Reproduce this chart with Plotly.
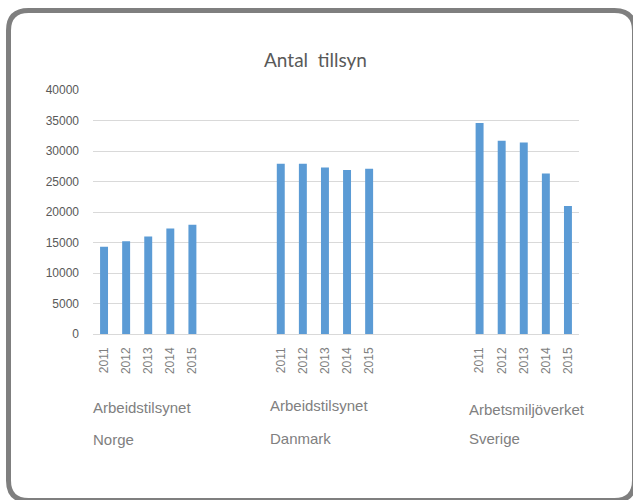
import plotly.graph_objects as go

# ---- data ----
years = ["2011", "2012", "2013", "2014", "2015"]
agencies = ["Arbeidstilsynet", "Arbeidstilsynet", "Arbetsmiljöverket"]
countries = ["Norge", "Danmark", "Sverige"]
norge = [14300, 15200, 16000, 17300, 17900]
danmark = [27900, 27900, 27300, 26900, 27100]
sverige = [34600, 31700, 31400, 26300, 21000]
y_tick_vals = [0, 5000, 10000, 15000, 20000, 25000, 30000, 35000, 40000]
title_text = "Antal  tillsyn"

series = [norge, danmark, sverige]

# ---- layout helpers ----
W, H = 633, 500
L, R, T, B = 93, 54, 90, 166
PW, PH = W - L - R, H - T - B
group_start = [0, 8, 17]  # slot index of the first bar of each group


def px(x):
    return (x - L) / PW


def py(y):
    return (H - B - y) / PH


fig = go.Figure()

xs, ys, tick_vals, tick_text = [], [], [], []
for g, vals in enumerate(series):
    for i, v in enumerate(vals):
        xs.append(group_start[g] + i)
        ys.append(v)
        tick_vals.append(group_start[g] + i)
        tick_text.append(years[i])

fig.add_trace(go.Bar(x=xs, y=ys, width=0.36, marker=dict(color="#5b9bd5", line=dict(width=0)),
                     hoverinfo="y"))

# group labels
line1_y = [407, 405, 409]
line2_y = [439, 438, 438]
for g in range(3):
    fig.add_annotation(x=group_start[g] - 0.5, xref="x", xanchor="left", xshift=-2,
                       y=0, yref="paper", yanchor="middle", yshift=-(line1_y[g] - (H - B)),
                       text=agencies[g], showarrow=False,
                       font=dict(family="Liberation Sans", size=15, color="#808080"))
    fig.add_annotation(x=group_start[g] - 0.5, xref="x", xanchor="left", xshift=-2,
                       y=0, yref="paper", yanchor="middle", yshift=-(line2_y[g] - (H - B)),
                       text=countries[g], showarrow=False,
                       font=dict(family="Liberation Sans", size=15, color="#808080"))

# rounded frame
x0, y0, x1, y1, r = 8.5, 10.5, 634.5, 500.5, 20
path = (f"M {px(x0 + r)},{py(y0)} L {px(x1 - r)},{py(y0)} "
        f"Q {px(x1)},{py(y0)} {px(x1)},{py(y0 + r)} "
        f"L {px(x1)},{py(y1 - r)} Q {px(x1)},{py(y1)} {px(x1 - r)},{py(y1)} "
        f"L {px(x0 + r)},{py(y1)} Q {px(x0)},{py(y1)} {px(x0)},{py(y1 - r)} "
        f"L {px(x0)},{py(y0 + r)} Q {px(x0)},{py(y0)} {px(x0 + r)},{py(y0)} Z")
fig.add_shape(type="path", path=path, xref="paper", yref="paper",
              line=dict(color="#7f7f7f", width=5), fillcolor="rgba(0,0,0,0)", layer="above")

fig.update_layout(
    width=W, height=H,
    margin=dict(l=L, r=R, t=T, b=B, pad=0),
    paper_bgcolor="white", plot_bgcolor="white",
    showlegend=False,
    title=dict(text=title_text, x=(263 + 368) / 2 / W, xanchor="center",
               y=1 - 60 / H, yanchor="middle", yref="container",
               font=dict(family="Lato", size=19, color="#595959")),
    xaxis=dict(range=[-0.5, 21.5], tickvals=tick_vals, ticktext=tick_text, tickangle=-90,
               showgrid=False, zeroline=False, showline=False, ticks="",
               ticklabelstandoff=10,
               tickfont=dict(family="Liberation Sans", size=12, color="#7f7f7f")),
    yaxis=dict(range=[0, 40000], tickvals=y_tick_vals, tickformat="d",
               showgrid=True, gridcolor="#d9d9d9",
               gridwidth=1, zeroline=True, zerolinecolor="#d9d9d9", zerolinewidth=1,
               showline=False, ticks="", ticklabelstandoff=13,
               tickfont=dict(family="Liberation Sans", size=12, color="#595959")),
)

fig.write_html("out.html")
